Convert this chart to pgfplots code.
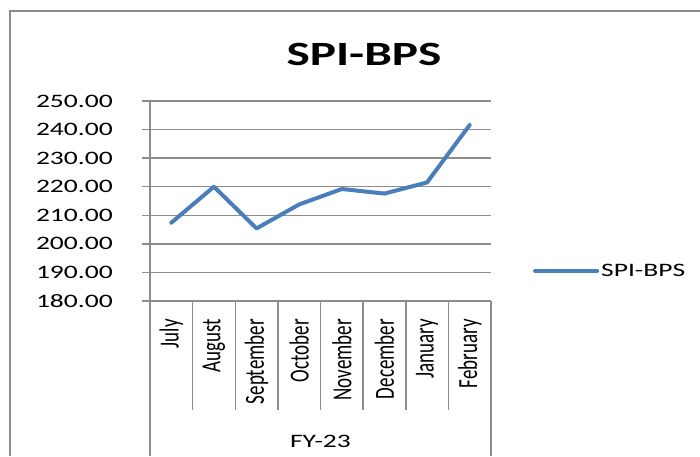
\documentclass[border=0pt]{standalone}
\usepackage{fontspec}
\setmainfont{Carlito}[FakeStretch=1.45]
\newfontfamily\plainfont{Carlito}
\usepackage{graphicx}
\usepackage{pgfplots}
\pgfplotsset{compat=1.18}
\definecolor{linec}{HTML}{4A7EBB}
\definecolor{gridc}{HTML}{8C8C8C}
\newcommand\xl[1]{\scalebox{1.45}[1]{\rotatebox{90}{\plainfont\fontsize{19}{22}\selectfont #1}}}
\pgfplotstableread{
x y
0 207.4
1 220.0
2 205.4
3 213.8
4 219.2
5 217.6
6 221.5
7 241.6
}\spidata
\begin{document}
\begin{tikzpicture}
\begin{axis}[scale only axis,
  width=341pt, height=200pt,
  xmin=-0.5, xmax=7.5, ymin=180, ymax=250,
  ytick={180,190,...,250},
  xtick={0,...,7},
  xticklabels={\xl{July},\xl{August},\xl{September},\xl{October},\xl{November},\xl{December},\xl{January},\xl{February}},
  xticklabel style={anchor=north, inner sep=0pt, yshift=-10pt},
  major x tick style={draw=none},
  axis lines*=left,
  axis line style={gridc, line width=1.5pt},
  ymajorgrids, grid style={gridc, line width=1.5pt},
  tick align=outside, major tick length=8pt,
  y tick style={gridc, line width=1.5pt},
  yticklabel style={font=\fontsize{19}{22}\selectfont, anchor=east, inner sep=0pt, xshift=-29pt},
  legend style={at={(axis description cs:1.123,0.15)}, anchor=west, draw=none, fill=none,
    font=\fontsize{19}{22}\selectfont, inner sep=0pt},
  legend image code/.code={\draw[linec, line width=4pt, line cap=round] (0pt,0pt) -- (62pt,0pt);},
  /pgf/number format/.cd, fixed, fixed zerofill, precision=2, assume math mode=true,
]
\addplot[linec, line width=4pt, line join=round, line cap=round] table[x=x,y=y] {\spidata};
\addlegendentry{SPI-BPS}
\coordinate (O) at (rel axis cs:0,0);
\end{axis}
\begin{scope}[shift={(O)}, xshift=-150pt, yshift=-155pt, x=1pt, y=1pt]
\draw[gridc, line width=1.5pt] (10,0) -- (10,445) -- (700,445);
\node[anchor=base, font=\bfseries\fontsize{34}{40}\selectfont] at (364,391) {SPI-BPS};
\foreach \k in {1,...,7} {
  \draw[gridc, line width=1.5pt] (150+42.625*\k,155) -- (150+42.625*\k,46);
}
\draw[gridc, line width=1.5pt] (150,155) -- (150,0);
\draw[gridc, line width=1.5pt] (491,155) -- (491,0);
\node[anchor=base, font=\fontsize{19}{22}\selectfont] at (320.5,9) {FY-23};
\end{scope}
\pgfresetboundingbox
\path[use as bounding box] ([shift={(-150pt,-155pt)}]O) rectangle ([shift={(550pt,301pt)}]O);
\end{tikzpicture}
\end{document}
